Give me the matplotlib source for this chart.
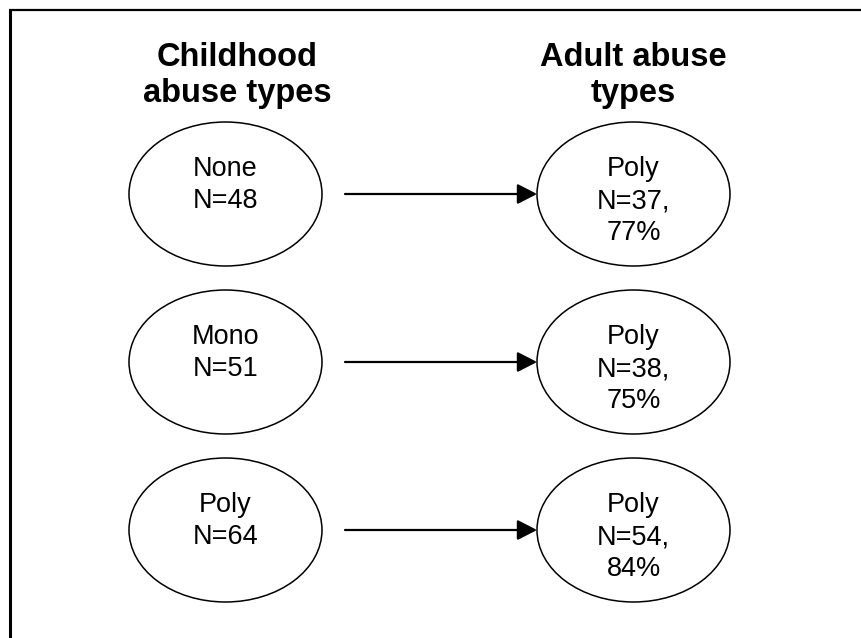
import matplotlib
matplotlib.use("Agg")
import matplotlib.pyplot as plt
from matplotlib.patches import Ellipse

plt.rcParams['font.family'] = ['Liberation Sans', 'DejaVu Sans']

# diagram content
col_titles = ["Childhood\nabuse types", "Adult abuse\ntypes"]
child_types = ["None", "Mono", "Poly"]
child_n = [48, 51, 64]
adult_types = ["Poly", "Poly", "Poly"]
adult_n = [37, 38, 54]
adult_pct = [77, 75, 84]

W, H = 861, 638
fig = plt.figure(figsize=(W / 100, H / 100), dpi=100)
ax = fig.add_axes([0, 0, 1, 1])
ax.set_xlim(0, W)
ax.set_ylim(H, 0)
ax.axis('off')

# frame (only top and left edges are visible)
ax.plot([9, W], [10, 10], color='black', lw=1.6, solid_capstyle='butt')
ax.plot([10, 10], [10, H], color='black', lw=2.2, solid_capstyle='butt')

left_x, right_x = 225.5, 633.5
ew, eh = 193, 144
row_y = [194, 362, 530]

ax.text(237, 102, col_titles[0], ha='center', va='baseline', fontsize=23.5,
        fontweight='bold', linespacing=1.22)
ax.text(633, 102, col_titles[1], ha='center', va='baseline', fontsize=23.5,
        fontweight='bold', linespacing=1.22)

for i, y in enumerate(row_y):
    ax.add_patch(Ellipse((left_x, y), ew, eh, fill=False, ec='black', lw=1.1))
    ax.add_patch(Ellipse((right_x, y), ew, eh, fill=False, ec='black', lw=1.1))
    ax.text(left_x, y - 38, "%s\nN=%d" % (child_types[i], child_n[i]),
            ha='center', va='top', fontsize=19.5, linespacing=1.3)
    ax.text(right_x, y - 38, "%s\nN=%d,\n%d%%" % (adult_types[i], adult_n[i], adult_pct[i]),
            ha='center', va='top', fontsize=19.5, linespacing=1.3)
    ax.annotate("", xy=(right_x - ew / 2, y), xytext=(345, y),
                arrowprops=dict(arrowstyle='-|>,head_length=1.2,head_width=0.62',
                                mutation_scale=10, color='black', lw=1.6,
                                shrinkA=0, shrinkB=0))

fig.savefig("out.png", dpi=100)
